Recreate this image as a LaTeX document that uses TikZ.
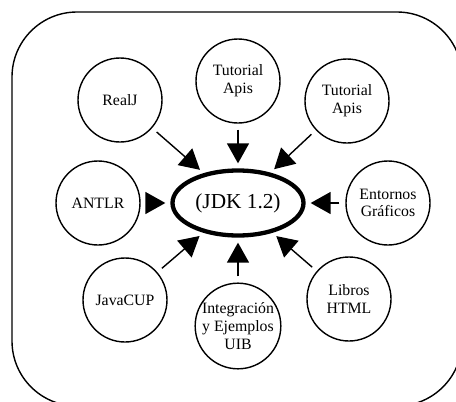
\documentclass[tikz,border=0pt]{standalone}
\usepackage{fontspec}
\setmainfont{Liberation Serif}
\usetikzlibrary{positioning,shapes.geometric,arrows.meta}

\begin{document}
\begin{tikzpicture}[x=1pt, y=1pt,
tema/.style={circle, draw=black, fill=white, line width=1.4pt, minimum size=84pt, inner sep=0pt, align=center, font=\fontsize{15.8}{17.8}\selectfont},
nucleo/.style={ellipse, draw=black, line width=4.3pt, minimum width=131pt, minimum height=65pt, inner sep=0pt, font=\fontsize{21.3}{24}\selectfont},
flecha/.style={-{Triangle[length=20pt, width=22pt]}, line width=1.4pt, shorten <=6pt, shorten >=5pt}
]
\useasboundingbox (0,0) rectangle (456,-402);
\clip (0,0) rectangle (456,-402);
%Frame
\draw[line width=1.4pt, rounded corners=65pt] (12,-12) rectangle (462,-406);
%Nodes
\node[nucleo]    (jdk)      at (238,-203)                                    {(JDK 1.2)};
\node[tema]      (realj)    [on grid, above left=103pt and 118pt of jdk]     {RealJ};
\node[tema]      (tutuno)   [on grid, above=122pt of jdk]                    {Tutorial\\Apis};
\node[tema]      (tutdos)   [on grid, above right=102pt and 109pt of jdk]    {Tutorial\\Apis};
\node[tema]      (antlr)    [on grid, left=140pt of jdk]                     {ANTLR};
\node[tema]      (entornos) [on grid, right=150pt of jdk]                    {Entornos\\Gráficos};
\node[tema]      (javacup)  [on grid, below left=97pt and 113pt of jdk]      {JavaCUP};
\node[tema]      (integ)    [on grid, below=123pt of jdk]                    {Integración\\y Ejemplos\\UIB};
\node[tema]      (libros)   [on grid, below right=96pt and 111pt of jdk]     {Libros\\HTML};
%Lines
\draw[flecha] (realj) -- (jdk);
\draw[flecha] (tutuno) -- (jdk);
\draw[flecha] (tutdos) -- (jdk);
\draw[flecha] (antlr) -- (jdk);
\draw[flecha] (entornos) -- (jdk);
\draw[flecha] (javacup) -- (jdk);
\draw[flecha] (integ) -- (jdk);
\draw[flecha] (libros) -- (jdk);
\end{tikzpicture}
\end{document}
